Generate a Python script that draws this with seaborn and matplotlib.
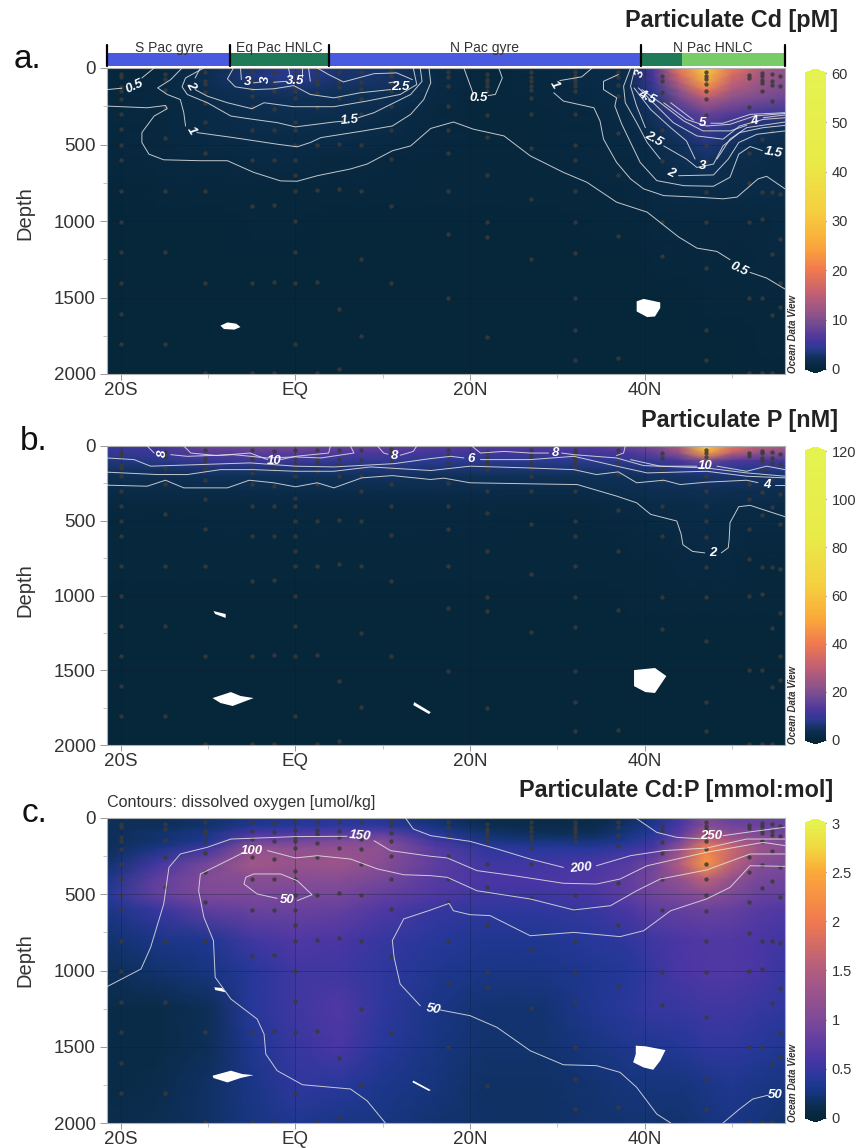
# GP15-style Pacific section: particulate Cd, P and Cd:P with contours
# Values are estimated from the published figure.

import numpy as np
import pandas as pd
import matplotlib.pyplot as plt
import seaborn as sns
from matplotlib.colors import LinearSegmentedColormap

# grid of the colour fields
lats = [-21.6, -16, -10, -5, 0, 5, 10, 16, 22, 28, 34, 38, 41, 44, 47, 50, 53, 56.1]
depths = [0, 50, 100, 150, 200, 300, 400, 500, 600, 800, 1000, 1250, 1500, 1750, 2000]

cd_values = [
    [.3, .4, 1.5, 3, 4.2, 3, 2.8, .8, .4, .5, 1, 1.4, 6, 20, 31, 20, 14, 11],
    [.35, .5, 1.8, 3.3, 4, 2.9, 2.8, 1, .4, .5, 1, 1.4, 6, 17, 29, 17, 13, 11],
    [.35, .6, 1.8, 3, 3.6, 2.6, 2.6, 1, .4, .5, 1, 1.3, 5, 14, 24, 15, 12, 10],
    [.4, .7, 1.6, 2.3, 2.8, 2.2, 2.2, .9, .4, .5, .9, 1.2, 4, 11, 19, 13, 11, 9.5],
    [.45, .7, 1.3, 1.9, 2.2, 1.9, 1.9, .8, .4, .5, .8, 1.1, 3.2, 9, 14, 11, 9.5, 8.5],
    [.5, .6, 1.1, 1.5, 1.7, 1.5, 1.4, .7, .4, .4, .7, 1, 2.5, 5, 8, 7, 5.5, 4.8],
    [.4, .6, 1, 1.3, 1.4, 1.2, 1.1, .7, .4, .4, .6, .9, 1.7, 3, 5, 3.5, 2.4, 2],
    [.3, .5, .9, 1.1, 1, .95, .9, .6, .4, .4, .55, .8, 1.3, 2.2, 3.4, 2.4, 1.6, 1.4],
    [.3, .5, .7, .85, .8, .7, .6, .45, .4, .4, .5, .7, 1.1, 1.7, 2.4, 1.6, 1.2, 1],
    [.2, .25, .3, .35, .4, .35, .3, .3, .3, .3, .35, .5, .8, 1, 1.1, 1, 1.1, 1],
    [.15, .2, .2, .25, .25, .2, .2, .2, .2, .2, .25, .3, .5, .6, .7, .65, .7, .75],
    [.12, .12, .12, .15, .15, .12, .12, .12, .12, .12, .15, .2, .3, .4, .5, .45, .5, .6],
    [.1, .1, .1, .1, .1, .1, .1, .1, .1, .1, .1, .12, .15, .2, .3, .3, .35, .45],
    [.07, .07, .07, .07, .07, .07, .07, .07, .07, .07, .07, .08, .12, .15, .2, .2, .25, .3],
    [.05, .05, .05, .05, .05, .05, .05, .05, .05, .05, .05, .05, .1, .1, .1, .15, .15, .2],
]
p_values = [
    [10, 11, 17, 18, 18, 16, 16, 14, 14, 14, 14, 16, 19, 29, 68, 40, 30, 27],
    [9, 10, 14, 14.5, 14.5, 13, 12.5, 11, 11, 11, 11, 12, 15, 22, 48, 28, 22, 20],
    [7, 7.5, 10, 10.5, 10.5, 9, 9, 8, 8, 8, 8, 8.5, 9.5, 12, 18, 13, 12, 11],
    [5.5, 5.5, 6.5, 6.5, 6.5, 6.5, 7, 6.5, 6.5, 6.5, 6.5, 6.5, 7, 8, 9, 8, 7.5, 7.5],
    [4, 4, 4.5, 4.5, 4.5, 4.5, 5, 4.5, 4.5, 4.5, 4.5, 4.5, 5, 5.5, 6, 5.8, 5.6, 5.4],
    [2, 2, 2.2, 2.4, 2.4, 2.4, 2.4, 2.4, 2.4, 2.2, 2.4, 3, 3.4, 3.6, 3.8, 3.6, 3.4, 3.2],
    [1.2, 1.2, 1.3, 1.3, 1.3, 1.3, 1.3, 1.3, 1.3, 1.2, 1.4, 1.6, 2.1, 2.3, 2.5, 2.1, 2, 1.9],
    [.9, .9, 1, 1, 1, 1, 1, 1, 1, .9, 1, 1.2, 1.6, 1.9, 2, 1.7, 1.5, 1.5],
    [.7, .7, .8, .8, .8, .8, .8, .8, .8, .8, .9, 1, 1.3, 1.7, 1.9, 1.7, 1.4, 1.4],
    [.5, .5, .5, .5, .6, .5, .5, .5, .5, .5, .6, .7, .8, 1, 1.1, 1, .9, .9],
    [.4, .4, .4, .4, .4, .4, .4, .4, .4, .4, .4, .5, .5, .6, .6, .6, .6, .6],
    [.3, .3, .3, .3, .3, .3, .3, .3, .3, .3, .3, .3, .4, .4, .4, .4, .4, .4],
    [.2, .2, .2, .2, .2, .2, .2, .2, .2, .2, .2, .2, .3, .3, .3, .3, .3, .3],
    [.15, .15, .15, .15, .15, .15, .15, .15, .15, .15, .15, .15, .2, .2, .2, .2, .2, .2],
    [.1, .1, .1, .1, .1, .1, .1, .1, .1, .1, .1, .1, .1, .1, .2, .2, .2, .2],
]
cdp_values = [
    [.15, .15, .2, .3, .35, .4, .35, .2, .1, .08, .08, .15, .3, .55, 1.0, .8, .8, .8],
    [.15, .15, .2, .35, .4, .45, .45, .25, .12, .1, .1, .2, .35, .6, 1.1, .9, .85, .85],
    [.15, .2, .3, .6, .65, .7, .75, .4, .2, .15, .15, .25, .4, .7, 1.4, 1.1, 1, .9],
    [.15, .2, .35, .85, .9, 1, 1.05, .55, .3, .25, .25, .35, .5, .9, 1.7, 1.4, 1.2, 1.0],
    [.15, .3, .55, 1.2, 1.15, 1.2, 1.15, .7, .45, .4, .4, .5, .6, 1.2, 2.1, 1.7, 1.3, 1.1],
    [.2, .55, .95, 1.35, 1.25, 1.3, 1.1, .75, .55, .55, .6, .7, .9, 1.5, 2.3, 1.6, 1.1, 1.0],
    [.3, .75, 1.05, 1.1, 1.1, 1.1, .95, .7, .6, .6, .65, .75, .95, 1.2, 1.6, 1.2, .95, .9],
    [.4, .8, 1.0, 1.0, .95, .95, .8, .65, .55, .55, .6, .75, .9, 1, 1.15, 1, .85, .8],
    [.3, .5, .75, .85, .85, .8, .65, .5, .45, .45, .5, .6, .75, .8, .85, .8, .7, .65],
    [.2, .3, .35, .55, .65, .6, .5, .4, .35, .35, .4, .45, .55, .6, .65, .65, .6, .55],
    [.15, .2, .28, .4, .55, .55, .45, .35, .3, .3, .35, .38, .5, .6, .65, .65, .6, .5],
    [.08, .08, .15, .4, .55, .65, .45, .3, .22, .22, .35, .42, .5, .5, .55, .55, .5, .45],
    [.08, .08, .15, .35, .5, .6, .4, .28, .2, .2, .28, .33, .35, .38, .45, .45, .4, .35],
    [.08, .1, .18, .3, .45, .42, .32, .25, .18, .18, .22, .25, .25, .25, .3, .35, .3, .28],
    [.1, .12, .18, .28, .35, .3, .28, .22, .18, .18, .2, .22, .22, .2, .25, .3, .25, .2],
]

# sampling stations: latitude and the depths sampled there
station_lats = [-20, -15, -10.4, -5, -2.5, 0, 2.5, 5, 7.5, 11, 17.5, 22, 27, 32, 37, 42, 47, 52, 53.5, 54.6, 55.5]
station_depths = [
    [40, 60, 127, 149, 204, 302, 400, 505, 604, 805, 1006, 1205, 1406, 1607, 1804],
    [40, 72, 144, 254, 455, 805, 1205, 1804],
    [28, 83, 105, 155, 230, 352, 553, 805, 1406, 1996],
    [28, 87, 138, 181, 254, 402, 604, 905, 1406, 1996],
    [35, 94, 153, 267, 402, 604, 898, 1399, 1996],
    [28, 79, 122, 153, 199, 350, 402, 505, 604, 702, 805, 1003, 1202, 1406, 1804],
    [28, 79, 105, 164, 254, 503, 800, 1399, 1996],
    [28, 87, 127, 199, 494, 789, 1574, 1970],
    [28, 94, 138, 203, 302, 503, 805, 1250, 1749],
    [22, 50, 101, 149, 251, 402, 595, 905, 1408],
    [28, 57, 116, 247, 402, 553, 805, 1084, 1504],
    [40, 72, 94, 116, 153, 304, 450, 702, 1008, 1106, 1755],
    [28, 61, 83, 116, 144, 199, 302, 525, 857, 1246],
    [28, 50, 72, 94, 116, 149, 302, 505, 604, 805, 1008, 1208, 1504, 1711, 1908],
    [28, 57, 111, 186, 428, 702, 1099, 1897],
    [50, 83, 157, 227, 402, 605, 1007, 1226],
    [28, 50, 72, 105, 149, 201, 304, 402, 505, 608, 809, 1008, 1307, 1711, 1908],
    [44, 66, 254, 352, 553, 754, 1006, 1500, 1996],
    [35, 50, 79, 101, 153, 310, 461, 809, 990, 1500, 1996],
    [39, 83, 111, 214, 411, 809, 1215, 1613, 1996],
    [52, 118, 319, 520, 822, 1115, 1408, 1565],
]

# contours, one list per unbroken piece of line: (lat, depth)
cd_contours = [
    [(-21.6, 141), (-19.9, 132)],
    [(-17.6, 65), (-16.2, 0)],
    [(-21.6, 249), (-17, 260), (-14.9, 245), (-14.7, 266), (-16.2, 314), (-17.6, 422), (-17.6, 487), (-16.8, 563),
     (-15.1, 600), (-10.9, 606), (-7.8, 606), (-4.8, 682), (-1.7, 738), (.2, 740), (2.5, 704), (6.3, 660), (8.2, 628),
     (11.1, 541), (13.2, 509), (15.5, 395), (18.1, 353), (20.4, 400), (23.9, 444), (26.9, 574), (30.7, 682),
     (33.4, 747), (36.8, 877), (40.3, 942), (43.9, 1104), (46, 1177), (48.3, 1199), (49.8, 1253)],
    [(52.1, 1336), (54, 1373), (56.1, 1445)],
    [(-13, 0), (-14.3, 76), (-15.8, 130), (-14.7, 173), (-13.2, 206), (-12.8, 292), (-12.6, 379)],
    [(-11.3, 422), (-7.1, 455), (-2.1, 498), (.2, 515), (1.7, 487), (2.9, 455), (7.8, 411), (11.1, 379), (13.2, 303),
     (14.7, 206), (15.5, 97), (15.3, 0)],
    [(-10.5, 0), (-12.6, 65), (-13, 123), (-12.4, 173), (-10.1, 227), (-7.4, 314), (-4.8, 336), (-2.1, 357), (0, 385),
     (4.4, 353), (5.4, 348)],
    [(7.2, 325), (9, 292), (13.2, 173), (14.5, 87), (14.3, 0)],
    [(-10.9, 0), (-11.5, 65)],
    [(-11.5, 141), (-10.1, 184), (-7.8, 227), (-5, 266), (-3.6, 227), (-.2, 253), (4.4, 253), (8.2, 216), (12, 173),
     (13.9, 108), (13.5, 0)],
    [(-7.1, 0), (-7.8, 71), (-6.9, 123), (-4.8, 141), (-2.5, 136), (-.2, 115), (1.7, 173), (4.4, 195), (7.4, 162),
     (10.9, 141)],
    [(13.4, 76), (11.6, 32), (9, 37), (5.5, 91), (3.8, 43), (2.5, 0)],
    [(-6.3, 0), (-6.2, 76)],
    [(-4.8, 97), (-4, 92)],
    [(-2.5, 93), (-1, 87)],
    [(1.7, 87), (1.5, 0)],
    [(10.7, 97), (11.8, 87)],
    [(-.8, 0), (-.6, 60)],
    [(.8, 60), (.8, 0)],
    [(19.3, 0), (20.2, 141), (20.4, 175)],
    [(22.1, 180), (22.9, 173), (23.7, 65), (23.3, 0)],
    [(34, 0), (32.8, 58), (30.3, 82)],
    [(29.6, 162), (30.7, 216), (34.2, 260), (34.9, 346), (35.3, 465), (36.8, 617), (38.4, 725), (39.9, 790),
     (42.2, 834), (46, 844), (49, 855), (50.6, 844), (53, 725), (54, 708), (56.1, 790)],
    [(37, 43), (35.3, 87), (35.3, 141), (36.8, 195), (36.6, 249), (37.4, 368), (38.4, 487), (39.5, 617), (41.4, 736),
     (44.5, 769), (47.9, 773), (49.8, 714), (50.8, 563), (52.1, 513), (53.5, 540)],
    [(38.4, 0), (37.6, 119), (37.8, 227), (39.1, 357), (40.3, 487), (41.8, 595)],
    [(43.9, 704), (47.9, 699), (49.6, 595), (50.8, 487), (52.9, 433), (56.1, 411)],
    [(38.9, 0), (38.4, 119), (39.1, 249), (40.1, 390)],
    [(42.2, 509), (44.8, 595), (46, 650), (47.9, 628), (49, 509), (50.9, 422), (53.6, 390), (56.1, 375)],
    [(38.8, 130), (40.7, 271), (43, 390), (44.8, 476), (45.8, 595)],
    [(48.3, 595), (49.8, 465), (51.7, 390), (56.1, 353)],
    [(39.3, 130), (41, 227), (43.3, 357), (46, 444), (49, 465), (50.9, 379), (53.6, 336), (56.1, 325)],
    [(39.7, 141), (41.8, 227), (44.5, 346), (46.7, 411), (49.8, 411), (51.7, 375)],
    [(53.6, 325), (56.1, 307)],
    [(42.2, 227), (44.8, 336), (47.1, 379), (49.8, 368), (52.6, 314), (56.1, 297)],
    [(43, 227), (45.6, 340)],
    [(47.6, 361), (49, 361), (52.1, 303), (56.1, 292)],
]
cd_labels = [("0.5", -18.5, 119, 25), ("1", -12, 411, -60), ("2", -12, 115, -60), ("3", -5.5, 93, 0),
             ("3", -3.4, 76, 90), ("3.5", 0, 82, 0), ("2.5", 12, 123, 0), ("1.5", 6.2, 340, 5), ("0.5", 21, 195, 0),
             ("1", 29.7, 108, -60), ("3", 39.5, 37, 70), ("4.5", 40.3, 190, -25), ("5", 46.6, 361, 0),
             ("4", 52.6, 346, 10), ("2.5", 41, 465, -30), ("3", 46.7, 639, 0), ("2", 43, 682, -25),
             ("1.5", 54.8, 556, -10), ("0.5", 50.8, 1314, -25)]

p_contours = [
    [(-21.6, 262), (-17, 269), (-14.9, 229), (-12.8, 280), (-7.8, 280), (-5.3, 229), (-2.5, 246), (0, 273), (2.5, 246),
     (4.4, 280), (7.6, 213), (11.1, 198), (15.5, 224), (17, 215), (20, 246), (26.9, 253), (32.3, 258), (36.8, 335),
     (39.1, 380), (40.7, 457), (43.7, 502), (44.2, 590), (44.4, 660), (45.5, 705), (46.9, 715)],
    [(48.8, 715), (49.6, 680), (49.7, 624), (49.8, 513), (50.8, 406), (52.1, 397), (56.1, 473)],
    [(-21.6, 175), (-15.8, 191), (-12.4, 191), (-8.6, 158), (-4.8, 158), (0, 169), (4.4, 169), (8.6, 140), (15.5, 164),
     (20, 135), (26.9, 147), (31.9, 158), (34.5, 191), (37, 173), (39.1, 246), (42.2, 229), (44.1, 258), (47.1, 242),
     (51.7, 229), (53, 245)],
    [(55, 264), (56.1, 264)],
    [(-21.6, 80), (-18.5, 91), (-16.6, 135), (-10.9, 124), (-5.2, 113), (0, 135), (4.4, 140), (11.3, 118), (15.5, 84),
     (17.8, 69), (19.3, 80)],
    [(21.2, 91), (26.9, 91), (31.9, 69), (36.8, 135), (40.3, 180), (47.1, 169), (51.7, 202), (56.1, 213)],
    [(-17, 0), (-16.2, 47)],
    [(-14.3, 58), (-12.4, 69), (-7.1, 58), (-3.2, 80), (0, 73), (2.9, 80), (6.7, 47), (6.3, 0)],
    [(9.4, 0), (10.1, 47), (10.6, 55)],
    [(12, 62), (13.5, 36), (13.9, 0)],
    [(20.2, 0), (21.2, 47), (23.9, 36), (26.9, 47), (29, 47)],
    [(30.5, 47), (31.9, 58), (36.8, 80), (39.9, 131), (47.1, 147), (51.7, 180), (56.1, 202)],
    [(-12.8, 0), (-12, 47), (-9, 64), (-5.2, 47), (-3.2, 91)],
    [(-1.7, 91), (0, 69), (3.8, 47), (4, 0)],
    [(37.8, 0), (37.6, 47), (36.8, 64)],
    [(38.4, 91), (41.8, 135), (46, 135)],
    [(48.3, 135), (51.7, 169), (54, 135), (56.1, 158)],
]
p_labels = [("8", -15.2, 47, 90), ("10", -2.5, 102, 0), ("8", 11.3, 64, 0), ("6", 20.1, 87, 0), ("8", 29.8, 47, 0),
            ("10", 47, 135, 0), ("4", 54, 258, 0), ("2", 47.8, 716, 0)]

oxygen_contours = [
    [(-21.6, 1106), (-17.7, 990), (-16.6, 848), (-15.1, 564), (-14.5, 324), (-13.2, 236), (-10.1, 192), (-7.4, 138),
     (0, 122), (5.9, 120)],
    [(9, 149), (10.9, 214), (15.5, 251), (17.4, 262), (20.8, 345), (25, 378), (30.7, 428), (34.5, 433), (37.2, 400),
     (40.3, 313), (47.1, 225), (53.6, 160), (56.1, 181)],
    [(10.3, 2000), (8.2, 1854), (6.3, 1777), (.8, 1749), (-2.1, 1657), (-3.4, 1548), (-3.6, 1417), (-4.4, 1318),
     (-7.4, 1187), (-9.2, 1045), (-9.4, 804), (-10.5, 651), (-11.1, 477), (-10.9, 367), (-8.6, 302), (-5.9, 225)],
    [(-3.2, 214), (0, 262), (2.5, 247), (6.3, 269), (9.4, 334), (12.4, 372), (15.5, 378), (17.4, 389), (20.8, 477),
     (26.9, 531), (31.9, 603), (36.1, 575), (39.1, 477), (41.8, 400), (47.1, 341), (52.1, 236), (56.1, 236)],
    [(43, 2000), (41.4, 1941), (39.1, 1766), (37.2, 1668), (34.5, 1624), (30.7, 1618), (26.9, 1526), (23.1, 1373),
     (20, 1296), (16.6, 1259)],
    [(14.3, 1231), (12, 1089), (11.3, 914), (11.1, 804), (12.4, 662), (15.5, 603), (17.6, 560), (18.1, 608), (20, 634),
     (22.3, 640), (26.9, 772), (31.9, 750), (37.2, 778), (39.9, 739), (43, 608), (47.1, 531), (49.8, 455), (52.1, 313),
     (56.1, 317)],
    [(12.6, 0), (13.5, 72), (15.5, 116), (20, 153), (23.1, 203), (26.9, 269), (30.7, 324)],
    [(34.5, 313), (38.4, 247), (42.2, 214), (47.1, 197), (51.7, 138), (56.1, 138)],
    [(39, 0), (41.4, 94), (43.7, 127), (46.4, 136)],
    [(49, 116), (51.7, 94), (56.1, 61)],
    [(-2.1, 527), (-4.4, 498), (-5.9, 433), (-5.7, 389), (-4.8, 367), (-1.7, 367), (.2, 411), (1.9, 503), (.2, 542)],
    [(49, 2000), (50.9, 1908), (52.4, 1843), (54.2, 1817)],
]
oxygen_labels = [("100", -5, 214, 0), ("150", 7.4, 120, -5), ("50", -1, 538, 0), ("200", 32.7, 328, 5),
                 ("250", 47.7, 120, 0), ("50", 15.8, 1253, -10), ("50", 55, 1817, 0)]

# holes in the gridded fields: (lat, depth) outlines
cd_holes = [
    [(39.1, 1525), (39.9, 1509), (41.8, 1532), (41.8, 1569), (41.2, 1624), (40.3, 1628), (39.1, 1591)],
    [(-8.6, 1684), (-7.8, 1663), (-6.8, 1671), (-6.3, 1693), (-7, 1710), (-8.2, 1706)],
]
p_holes = [
    [(38.8, 1499), (41.2, 1485), (42.5, 1539), (41.2, 1652), (40.1, 1646), (38.8, 1606)],
    [(-9.5, 1686), (-7.4, 1646), (-6.3, 1672), (-4.8, 1686), (-7.2, 1739), (-8.6, 1719)],
    [(-9.4, 1104), (-8, 1124), (-8, 1150), (-9.2, 1124)],
    [(13.6, 1713), (15.5, 1780), (15.3, 1793), (13.5, 1733)],
]
cdp_holes = [
    [(39, 1493), (40.1, 1497), (42.4, 1522), (41.8, 1592), (41, 1651), (39.9, 1636), (38.7, 1602), (39, 1547)],
    [(-9.5, 1690), (-7.4, 1657), (-6.1, 1679), (-4.8, 1686), (-6.3, 1705), (-7.8, 1734), (-9.4, 1705)],
    [(-9.3, 1110), (-8.4, 1115), (-8, 1143), (-9.2, 1128)],
    [(13.5, 1722), (15.5, 1784), (15.3, 1790), (13.4, 1733)],
]

# regions in the strip above panel a
region_names = ["S Pac gyre", "Eq Pac HNLC", "N Pac gyre", "N Pac HNLC"]
region_edges = [-21.6, -7.45, 3.8, 39.6, 56.1]
strip_edges = [-21.6, -7.45, 3.8, 39.6, 44.3, 56.1]
strip_colors = ["#4a5ae0", "#1f7a58", "#4a5ae0", "#1f7a58", "#78cc68"]

lat_ticks = [-20, 0, 20, 40]
lat_tick_labels = ["20S", "EQ", "20N", "40N"]
lat_minor = [-10, 10, 30, 50]
depth_ticks = [0, 500, 1000, 1500, 2000]
depth_minor = [250, 750, 1250, 1750]

stretched = LinearSegmentedColormap.from_list("odv_stretched", [
    (0, "#06263a"), (2 / 60, "#0e3055"), (4 / 60, "#2b3a90"), (6 / 60, "#4a369c"), (10 / 60, "#80508f"),
    (15 / 60, "#c05f75"), (20 / 60, "#f0794f"), (25 / 60, "#fba83a"), (32 / 60, "#f5cf40"), (42 / 60, "#e9ea48"),
    (1, "#e4f350")])
linear = LinearSegmentedColormap.from_list("odv_linear", [
    (0, "#06263a"), (.04, "#0c2e50"), (.08, "#15357a"), (.13, "#25389a"), (.2, "#4a36a4"), (.333, "#7d4a98"),
    (.5, "#b25c80"), (.667, "#f0794f"), (.833, "#fba83a"), (.92, "#f2d840"), (1, "#e4f350")])

sns.set_theme(style="white")
plt.rcParams["font.family"] = ["Liberation Sans", "DejaVu Sans"]

W, H = 856, 1148
fig = plt.figure(figsize=(W / 100, H / 100), dpi=100)


def box(x0, y0, x1, y1):
    return [x0 / W, 1 - y1 / H, (x1 - x0) / W, (y1 - y0) / H]


def draw_panel(values, cmap, vmax, cbar_ticks, cbar_labels, contours, labels, holes, y0, y1, depth_y):
    # colour field: grid indices are mapped back to lat/depth by function scales
    ax = fig.add_axes(box(107, y0, 785, y1))
    cax = fig.add_axes(box(805, y0 + 1, 826, y1 - 1))
    frame = pd.DataFrame(values, index=depths, columns=lats)
    sns.heatmap(frame, ax=ax, cbar_ax=cax, cmap=cmap, vmin=0, vmax=vmax, shading="gouraud",
                xticklabels=False, yticklabels=False,
                cbar_kws={"extend": "both", "extendfrac": 0.014, "ticks": cbar_ticks})
    ix, iy = np.arange(len(lats), dtype=float), np.arange(len(depths), dtype=float)
    ax.set_xscale("function", functions=(lambda i: np.interp(i, ix, lats), lambda v: np.interp(v, lats, ix)))
    ax.set_yscale("function", functions=(lambda i: np.interp(i, iy, depths), lambda v: np.interp(v, depths, iy)))
    ax.set_xlim(0, len(lats) - 1)
    ax.set_ylim(len(depths) - 1, 0)
    ax.axis("off")

    cax.set_yticklabels(cbar_labels)
    cax.tick_params(left=True, right=True, direction="in", length=3, width=.8, color="#5a4a40",
                    labelsize=10.5, labelcolor="#333333", pad=4)
    ax.collections[0].colorbar.outline.set_linewidth(0)

    # everything else in a transparent axes with real lat/depth units
    top = fig.add_axes(box(107, y0, 785, y1), facecolor="none")
    for v in lat_ticks:
        top.axvline(v, color="#0a1c2c", lw=.5, alpha=.45, zorder=1)
    for v in depth_ticks[1:-1]:
        top.axhline(v, color="#0a1c2c", lw=.5, alpha=.45, zorder=1)

    st = pd.DataFrame([(la, d) for la, ds in zip(station_lats, station_depths) for d in ds], columns=["lat", "depth"])
    sns.scatterplot(data=st, x="lat", y="depth", ax=top, s=10, color="#3a3a3a", alpha=.85, linewidth=0, zorder=2,
                    clip_on=True, legend=False)

    rows = [(la, d, k) for k, seg in enumerate(contours) for la, d in seg]
    lines = pd.DataFrame(rows, columns=["lat", "depth", "seg"])
    sns.lineplot(data=lines, x="lat", y="depth", units="seg", estimator=None, sort=False, ax=top,
                 color="#e4e4e4", lw=.7, alpha=.85, zorder=3, legend=False, solid_joinstyle="round")
    for text, la, d, rot in labels:
        top.text(la, d, text, color="white", fontsize=9.5, fontstyle="italic", fontweight="bold", rotation=rot,
                 ha="center", va="center", zorder=4)
    for hole in holes:
        top.fill([p[0] for p in hole], [p[1] for p in hole], color="white", lw=0, zorder=5)

    top.set_xlim(-21.6, 56.1)
    top.set_ylim(2000, 0)
    top.set_xticks(lat_ticks, lat_tick_labels)
    top.set_xticks(lat_minor, minor=True)
    top.set_yticks(depth_ticks)
    top.set_yticks(depth_minor, minor=True)
    top.tick_params(axis="both", which="major", length=5, width=.7, color="#999999", labelsize=13.5,
                    labelcolor="#333333", pad=3, bottom=True, left=True)
    top.tick_params(axis="x", which="major", length=4, pad=1.5)
    top.tick_params(axis="both", which="minor", length=3, width=.6, color="#bbbbbb", bottom=True, left=True)
    top.set_xlabel("")
    top.set_ylabel("")
    for s in top.spines.values():
        s.set_color("#b0b0b0")
        s.set_linewidth(.8)
    fig.text(25 / W, 1 - depth_y / H, "Depth", rotation=90, ha="center", va="center",
             fontsize=14.5, color="#333333")
    fig.text(793 / W, 1 - (y1 - 1) / H, "Ocean Data View", rotation=90, ha="center", va="bottom",
             fontsize=7, fontstyle="italic", fontweight="bold", color="#333333")


draw_panel(cd_values, stretched, 60, [0, 10, 20, 30, 40, 50, 60], ["0", "10", "20", "30", "40", "50", "60"],
           cd_contours, cd_labels, cd_holes, 68, 374, 213)
draw_panel(p_values, stretched, 120, [0, 20, 40, 60, 80, 100, 120], ["0", "20", "40", "60", "80", "100", "120"],
           p_contours, p_labels, p_holes, 446, 745, 590)
draw_panel(cdp_values, linear, 3, [0, .5, 1, 1.5, 2, 2.5, 3], ["0", "0.5", "1", "1.5", "2", "2.5", "3"],
           oxygen_contours, oxygen_labels, cdp_holes, 818, 1123, 960)

# region strip
strip = fig.add_axes(box(107, 44, 785, 66), facecolor="none")
strip.set_xlim(-21.6, 56.1)
strip.set_ylim(0, 22)
strip.axis("off")
for a, b, c in zip(strip_edges[:-1], strip_edges[1:], strip_colors):
    strip.barh(6.3, b - a, left=a, height=12.6, color=c, lw=0)
for v in region_edges:
    strip.plot([v, v], [0, 21], color="black", lw=1.6, clip_on=False)
for name, a, b in zip(region_names, region_edges[:-1], region_edges[1:]):
    strip.text((a + b) / 2, 18, name, ha="center", va="center", fontsize=10, color="#333333")

# titles and panel letters
title_kw = dict(ha="right", va="center", fontsize=16.8, fontweight="bold", color="#222222")
fig.text(838 / W, 1 - 21 / H, "Particulate Cd [pM]", **title_kw)
fig.text(838 / W, 1 - 420 / H, "Particulate P [nM]", **title_kw)
fig.text(833 / W, 1 - 791 / H, "Particulate Cd:P [mmol:mol]", **title_kw)
fig.text(107 / W, 1 - 803 / H, "Contours: dissolved oxygen [umol/kg]", ha="left", va="center", fontsize=11.6,
         color="#333333")
for letter, x, y in [("a.", 14, 60), ("b.", 20, 441), ("c.", 22, 814)]:
    fig.text(x / W, 1 - y / H, letter, ha="left", va="center", fontsize=24, color="#111111")

plt.savefig("out.png", dpi=100)
